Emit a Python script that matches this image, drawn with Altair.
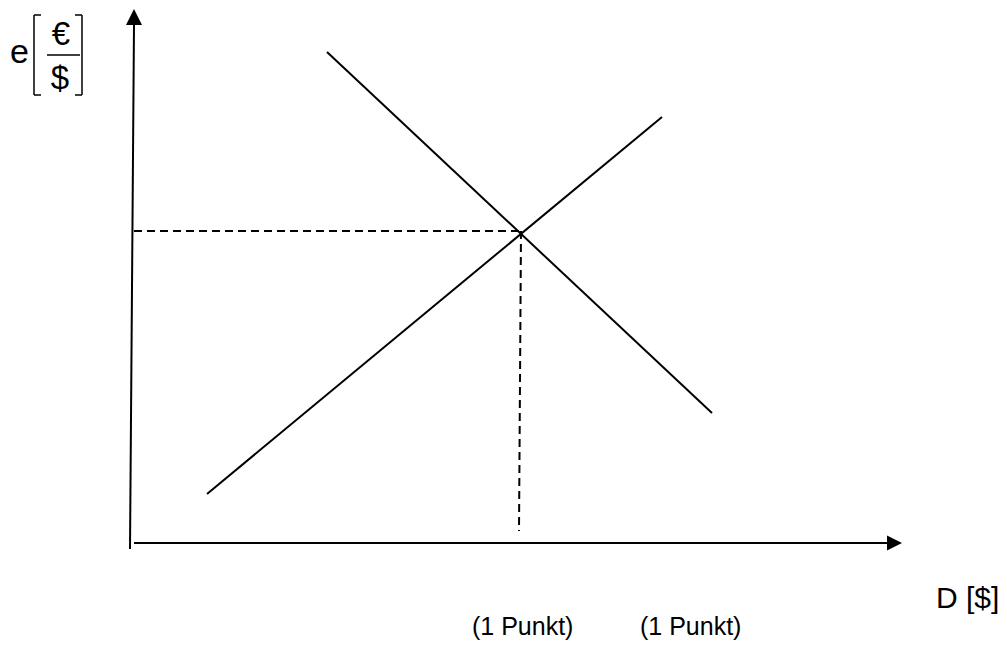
import altair as alt
import pandas as pd

# Diagram coordinates (drawing units; origin top-left, y grows downward)
# Segments: x, y -> x2, y2
seg_name = ["y_axis", "x_axis", "supply", "demand", "h_guide", "v_guide",
            "lb_v", "lb_t", "lb_b", "rb_v", "rb_t", "rb_b", "frac"]
seg_x1 = [130, 134, 207, 327, 134, 521, 34, 34, 34, 82, 75, 75, 47]
seg_y1 = [549, 543, 494, 52, 231, 231, 15, 15, 95, 15, 15, 95, 55]
seg_x2 = [134, 888, 662, 712, 521, 519, 34, 41, 41, 82, 82, 82, 80]
seg_y2 = [25, 543, 117, 413, 231, 531, 95, 15, 95, 95, 15, 95, 55]
seg_style = ["solid", "solid", "solid", "solid", "dash", "dash",
             "thin", "thin", "thin", "thin", "thin", "thin", "thin"]

# Arrow heads
arrow_x = [134, 894.5]
arrow_y = [17, 543]

# Labels
lab_text = ["e", "€", "$", "D [$]", "(1 Punkt)", "(1 Punkt)"]
lab_x = [19.5, 61, 60, 936, 472, 640]
lab_y = [63, 45, 89, 608, 635, 635]
lab_size = [34, 33, 33, 30, 25, 25]
lab_align = ["center", "center", "center", "left", "left", "left"]

W, H = 991, 633
xs = alt.Scale(domain=[8, 8 + W], nice=False, zero=False)
ys = alt.Scale(domain=[8, 8 + H], nice=False, zero=False, reverse=True)

segs = pd.DataFrame({"name": seg_name, "x": seg_x1, "y": seg_y1,
                     "x2": seg_x2, "y2": seg_y2, "style": seg_style})

def rules(style, width, dash=None):
    kw = dict(color="black", strokeWidth=width)
    if dash:
        kw["strokeDash"] = dash
    return alt.Chart(segs).transform_filter(
        alt.datum.style == style
    ).mark_rule(**kw).encode(
        x=alt.X("x:Q", scale=xs, axis=None),
        y=alt.Y("y:Q", scale=ys, axis=None),
        x2="x2:Q", y2="y2:Q",
    )

solid = rules("solid", 2)
dashed = rules("dash", 2, [8, 5])
thin = rules("thin", 1.5)

up = alt.Chart(pd.DataFrame({"x": arrow_x[:1], "y": arrow_y[:1]})).mark_point(
    shape="M0,-1L-1,1L1,1Z", size=256, filled=True, color="black", opacity=1
).encode(x=alt.X("x:Q", scale=xs, axis=None), y=alt.Y("y:Q", scale=ys, axis=None))

right = alt.Chart(pd.DataFrame({"x": arrow_x[1:], "y": arrow_y[1:]})).mark_point(
    shape="M1,0L-1,-1L-1,1Z", size=225, filled=True, color="black", opacity=1
).encode(x=alt.X("x:Q", scale=xs, axis=None), y=alt.Y("y:Q", scale=ys, axis=None))

labs = pd.DataFrame({"t": lab_text, "x": lab_x, "y": lab_y, "s": lab_size, "a": lab_align})
text_layers = []
for al in ["center", "left"]:
    text_layers.append(
        alt.Chart(labs).transform_filter(alt.datum.a == al).mark_text(
            align=al, baseline="alphabetic", font="Liberation Sans", color="black"
        ).encode(
            x=alt.X("x:Q", scale=xs, axis=None),
            y=alt.Y("y:Q", scale=ys, axis=None),
            text="t:N",
            size=alt.Size("s:Q", scale=None, legend=None),
        )
    )

chart = alt.layer(solid, dashed, thin, up, right, *text_layers).properties(
    width=W, height=H, padding=0,
    autosize=alt.AutoSizeParams(type="none"),
    background="white",
).configure_view(stroke=None)

chart.save("out.html", embed_options={"renderer": "svg", "actions": False})
